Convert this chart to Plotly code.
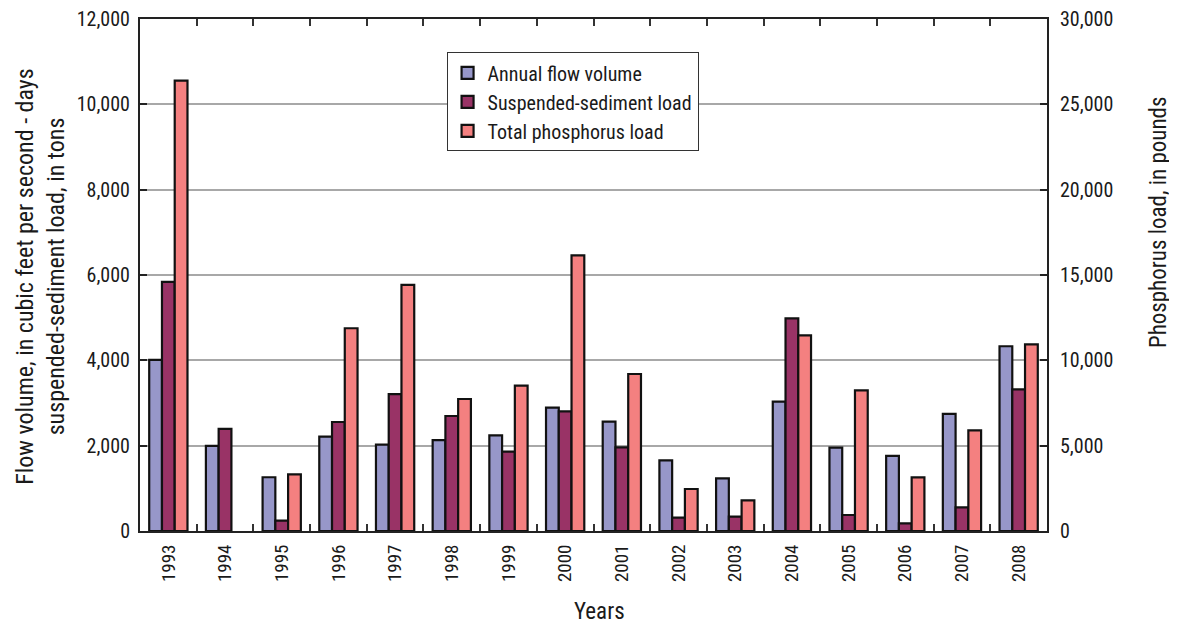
import plotly.graph_objects as go

years = [str(y) for y in range(1993, 2009)]
flow_volume = [4010, 1995, 1260, 2210, 2025, 2130, 2240, 2890, 2565, 1655, 1235, 3030, 1955, 1760, 2745, 4330]
sediment_load = [5840, 2395, 245, 2555, 3210, 2695, 1860, 2805, 1960, 315, 335, 4985, 375, 180, 555, 3320]
phosphorus_load = [26390, None, 3320, 11880, 14420, 7735, 8515, 16150, 9200, 2460, 1800, 11465, 8245, 3145, 5900, 10940]

FONT = "Liberation Sans Narrow, Roboto Condensed, Arial Narrow, Liberation Sans, sans-serif"
colors = ["#9797c9", "#993366", "#f48080"]
names = ["Annual flow volume", "Suspended-sediment load", "Total phosphorus load"]
series = [flow_volume, sediment_load, phosphorus_load]
axes = ["y", "y", "y2"]
offsets = [-0.3375, -0.1125, 0.1125]

fig = go.Figure()
for name, vals, col, ax, off in zip(names, series, colors, axes, offsets):
    fig.add_trace(go.Bar(
        x=years, y=vals, name=name, yaxis=ax,
        width=0.225, offset=off,
        marker=dict(color=col, line=dict(color="#111111", width=2.2)),
        legendgroup=name,
    ))

fig.update_layout(
    width=1169, height=616,
    margin=dict(l=132, r=130, t=11, b=93),
    paper_bgcolor="white", plot_bgcolor="white",
    font=dict(family=FONT, size=20, color="#1a1a1a"),
    barmode="overlay",
    showlegend=True,
    legend=dict(
        x=0.338, y=0.935, xanchor="left", yanchor="top",
        bgcolor="white", bordercolor="#333333", borderwidth=1,
        font=dict(family=FONT, size=20, color="#1a1a1a"),
        tracegroupgap=10, traceorder="normal",
        itemwidth=30,
    ),
    xaxis=dict(
        type="category", tickangle=-90, tickson="boundaries",
        ticks="inside", ticklen=7, tickcolor="#333333", tickwidth=1.5,
        showline=True, linecolor="#222222", linewidth=2, mirror="ticks",
        showgrid=False, range=[-0.5, 15.5], automargin=False,
        ticklabelstandoff=4, ticklabeloverflow="allow",
        tickfont=dict(family=FONT, size=19),
    ),
    yaxis=dict(
        range=[0, 12000], dtick=2000, tickformat=",d",
        ticks="inside", ticklen=7, tickcolor="#222222", tickwidth=2,
        showline=True, linecolor="#222222", linewidth=2,
        showgrid=True, gridcolor="#a8a8a8", gridwidth=1.5,
        zeroline=False, automargin=False,
        ticklabelstandoff=4, ticklabeloverflow="allow",
        tickfont=dict(family=FONT, size=20),
    ),
    yaxis2=dict(
        range=[0, 30000], dtick=5000, tickformat=",d",
        overlaying="y", side="right",
        ticks="inside", ticklen=7, tickcolor="#222222", tickwidth=2,
        showline=True, linecolor="#222222", linewidth=2,
        showgrid=False, zeroline=False, automargin=False,
        ticklabelstandoff=7, ticklabeloverflow="allow",
        tickfont=dict(family=FONT, size=20),
    ),
    annotations=[
        dict(text="Flow volume, in cubic feet per second - days<br>suspended-sediment load, in tons",
             xref="paper", yref="paper", x=-0.1105, y=0.498, xanchor="center", yanchor="middle",
             textangle=-90, showarrow=False, font=dict(family=FONT, size=24, color="#1a1a1a")),
        dict(text="Phosphorus load, in pounds",
             xref="paper", yref="paper", x=1.1225, y=0.6035, xanchor="center", yanchor="middle",
             textangle=-90, showarrow=False, font=dict(family=FONT, size=23, color="#1a1a1a")),
        dict(text="Years",
             xref="paper", yref="paper", x=0.507, y=-0.158, xanchor="center", yanchor="middle",
             showarrow=False, font=dict(family=FONT, size=23, color="#1a1a1a")),
    ],
)

fig.write_html("out.html")
